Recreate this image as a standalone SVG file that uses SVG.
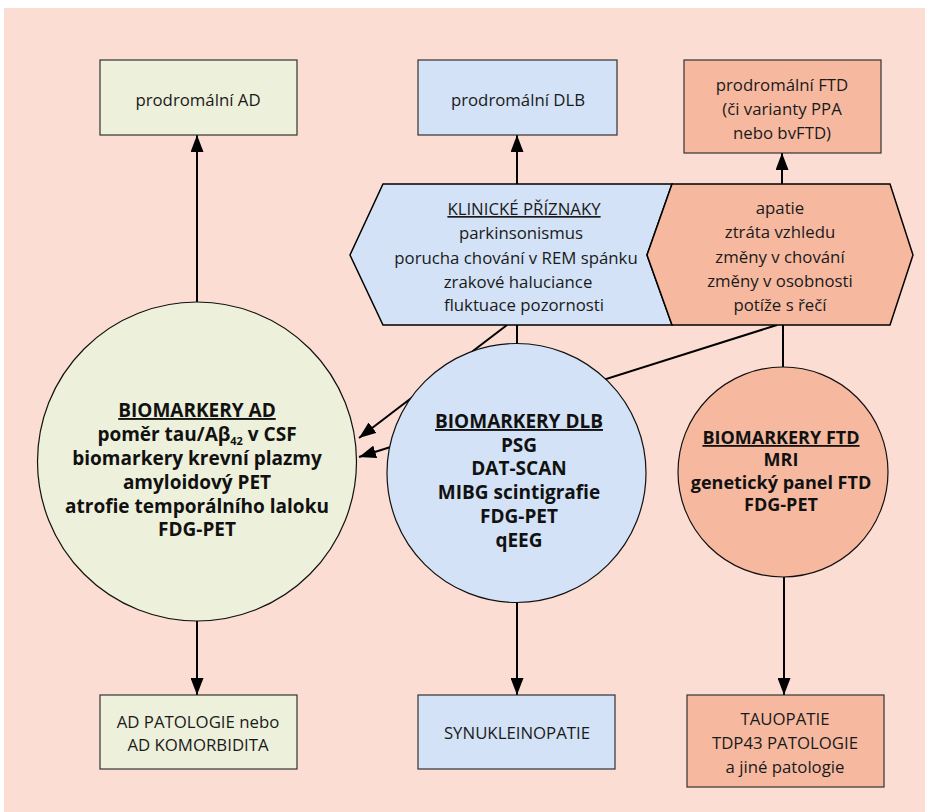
<svg xmlns="http://www.w3.org/2000/svg" width="925" height="812" viewBox="0 0 925 812">
<defs>
<marker id="ah" markerUnits="userSpaceOnUse" markerWidth="17" markerHeight="13" refX="17" refY="6.5" orient="auto">
<path d="M0,0 L17,6.5 L0,13 z" fill="#000"/>
</marker>
<style>
.bg{fill:#FBDDD3}
.g{fill:#EDF0DA}
.b{fill:#D3E2F6}
.o{fill:#F6B9A0}
.box{stroke:#333;stroke-width:1.2}
.sh{stroke:#000;stroke-width:1.5;stroke-linejoin:miter}
.cir{stroke:#111;stroke-width:1.2}
.t{font-family:"Open Sans","Noto Sans","Liberation Sans",sans-serif;font-size:16.8px;fill:#1a1a1a;text-anchor:middle}
.tb{font-family:"Open Sans","Noto Sans","Liberation Sans",sans-serif;font-weight:bold;fill:#111;text-anchor:middle}
.c{stroke:#000;stroke-width:2;fill:none}
</style>
</defs>
<rect class="bg" x="4" y="8" width="921" height="804"/>

<g id="connectors">
<line class="c" x1="197" y1="302" x2="197" y2="135" marker-end="url(#ah)"/>
<line class="c" x1="517" y1="184" x2="517" y2="135" marker-end="url(#ah)"/>
<line class="c" x1="782" y1="184" x2="782" y2="153" marker-end="url(#ah)"/>
<line class="c" x1="517" y1="325" x2="517" y2="344"/>
<line class="c" x1="783" y1="325" x2="783" y2="367"/>
<line class="c" x1="507" y1="325" x2="359" y2="438" marker-end="url(#ah)"/>
<line class="c" x1="777" y1="325" x2="359" y2="457" marker-end="url(#ah)"/>
<line class="c" x1="197" y1="621" x2="197" y2="695" marker-end="url(#ah)"/>
<line class="c" x1="517" y1="603" x2="517" y2="695" marker-end="url(#ah)"/>
<line class="c" x1="784" y1="577" x2="784" y2="695" marker-end="url(#ah)"/>
</g>

<g id="prodromal-ad">
<rect class="g box" x="100" y="60" width="197" height="75"/>
<text class="t" x="198" y="106">prodromální AD</text>
</g>
<g id="prodromal-dlb">
<rect class="b box" x="418" y="60" width="199" height="75"/>
<text class="t" x="518" y="106">prodromální DLB</text>
</g>
<g id="prodromal-ftd">
<rect class="o box" x="684" y="60" width="197" height="93"/>
<text class="t" x="782" y="91">prodromální FTD</text>
<text class="t" x="782" y="115">(či varianty PPA</text>
<text class="t" x="782" y="139">nebo bvFTD)</text>
</g>

<g id="klinicke-priznaky">
<polygon class="b sh" points="383,184 672,184 647,255 672,325 383,325 350,255"/>
<text class="t" x="524" y="215" text-decoration="underline">KLINICKÉ PŘÍZNAKY</text>
<text class="t" x="521" y="239">parkinsonismus</text>
<text class="t" x="516" y="264">porucha chování v REM spánku</text>
<text class="t" x="518" y="288">zrakové haluciance</text>
<text class="t" x="524" y="311">fluktuace pozornosti</text>
</g>
<g id="ftd-priznaky">
<polygon class="o sh" points="672,184 890,184 913,255 890,325 672,325 647,255"/>
<text class="t" x="780" y="214">apatie</text>
<text class="t" x="780" y="238">ztráta vzhledu</text>
<text class="t" x="780" y="263">změny v chování</text>
<text class="t" x="780" y="287">změny v osobnosti</text>
<text class="t" x="780" y="311">potíže s řečí</text>
</g>

<g id="biomarkery-ad">
<circle class="g cir" cx="197" cy="461.5" r="159.5"/>
<text class="tb" font-size="19" x="197" y="417" text-decoration="underline">BIOMARKERY AD</text>
<text class="tb" font-size="19" x="197" y="441">poměr tau/Aβ<tspan font-size="11" dy="4">42</tspan><tspan dy="-4"> v CSF</tspan></text>
<text class="tb" font-size="19" x="197" y="465">biomarkery krevní plazmy</text>
<text class="tb" font-size="19" x="197" y="489">amyloidový PET</text>
<text class="tb" font-size="19" x="197" y="513">atrofie temporálního laloku</text>
<text class="tb" font-size="19" x="197" y="536">FDG-PET</text>
</g>
<g id="biomarkery-dlb">
<circle class="b cir" cx="516.5" cy="473" r="129.5"/>
<text class="tb" font-size="19" x="519" y="428" text-decoration="underline">BIOMARKERY DLB</text>
<text class="tb" font-size="19" x="519" y="452">PSG</text>
<text class="tb" font-size="19" x="519" y="475">DAT-SCAN</text>
<text class="tb" font-size="19" x="519" y="499">MIBG scintigrafie</text>
<text class="tb" font-size="19" x="519" y="523">FDG-PET</text>
<text class="tb" font-size="19" x="519" y="547">qEEG</text>
</g>
<g id="biomarkery-ftd">
<circle class="o cir" cx="783" cy="472" r="105"/>
<text class="tb" font-size="18" x="781" y="444" text-decoration="underline">BIOMARKERY FTD</text>
<text class="tb" font-size="18" x="781" y="466">MRI</text>
<text class="tb" font-size="18" x="781" y="489">genetický panel FTD</text>
<text class="tb" font-size="18" x="781" y="511">FDG-PET</text>
</g>

<g id="ad-patologie">
<rect class="g box" x="100" y="695" width="197" height="74"/>
<text class="t" x="198" y="728">AD PATOLOGIE nebo</text>
<text class="t" x="198" y="751">AD KOMORBIDITA</text>
</g>
<g id="synukleinopatie">
<rect class="b box" x="418" y="695" width="197" height="74"/>
<text class="t" x="517" y="739">SYNUKLEINOPATIE</text>
</g>
<g id="tauopatie">
<rect class="o box" x="687" y="695" width="197" height="92"/>
<text class="t" x="785" y="725">TAUOPATIE</text>
<text class="t" x="785" y="749">TDP43 PATOLOGIE</text>
<text class="t" x="785" y="773">a jiné patologie</text>
</g>
</svg>
